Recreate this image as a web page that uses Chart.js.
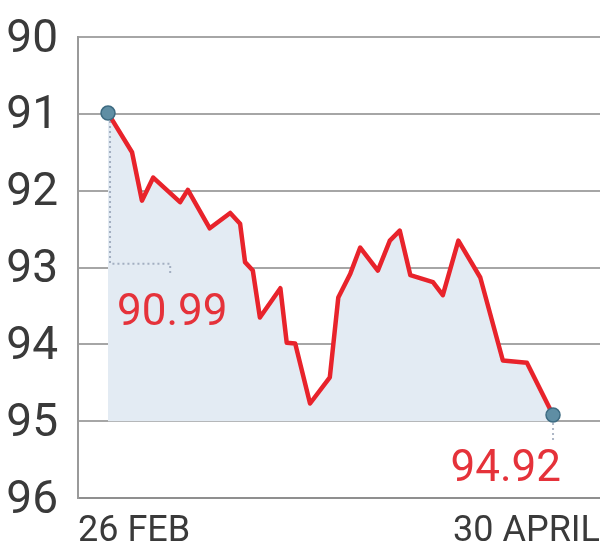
<!DOCTYPE html>
<html><head><meta charset="utf-8">
<script src="https://cdn.jsdelivr.net/npm/chart.js@4"></script>
<style>html,body{margin:0;padding:0;background:#fff}#wrap{width:600px;height:543px}</style>
</head>
<body><div id="wrap"><canvas id="c" width="600" height="543"></canvas></div>
<script>
// Days after 26 Feb (position along the period) and rate values (inverted axis)
const days = [0,3.4,4.8,6.4,10.2,11.3,14.4,17.3,18.7,19.4,20.5,21.5,24.4,25.3,26.5,28.6,31.4,32.6,34.3,35.7,38.2,39.9,41.3,42.8,46.0,47.4,49.6,52.7,55.9,59.3,63];
const values = [90.99,91.50,92.13,91.83,92.15,91.99,92.49,92.29,92.43,92.93,93.04,93.65,93.27,93.98,93.99,94.77,94.43,93.39,93.08,92.74,93.04,92.65,92.52,93.10,93.19,93.36,92.65,93.13,94.21,94.24,94.92];
const xLabels = ['26 FEB','30 APRIL'];
const yTicks = [90,91,92,93,94,95,96];
const startLabel = '90.99';
const endLabel = '94.92';

const pts = days.map((d,i)=>({x:d,y:values[i]}));
const last = values.length-1;

const annot = {
  id:'annot',
  afterDatasetsDraw(chart){
    const {ctx, scales:{x,y}} = chart;
    const x0 = x.getPixelForValue(days[0]), y0 = y.getPixelForValue(values[0]);
    const xe = x.getPixelForValue(days[last]), ye = y.getPixelForValue(values[last]);
    ctx.save();
    ctx.strokeStyle = 'rgba(120,135,160,0.6)';
    ctx.lineWidth = 2;
    ctx.setLineDash([2,3]);
    const yb = y.getPixelForValue(92.95);
    const xr = x.getPixelForValue(8.8);
    ctx.beginPath();
    ctx.moveTo(x0+2,y0+8); ctx.lineTo(x0+2,yb); ctx.lineTo(xr,yb); ctx.lineTo(xr,yb+12);
    ctx.moveTo(xe,ye+8); ctx.lineTo(xe,ye+26);
    ctx.stroke();
    ctx.setLineDash([]);
    ctx.fillStyle = '#e5323a';
    ctx.font = '44px Roboto';
    ctx.textBaseline = 'middle';
    ctx.textAlign = 'left';
    ctx.fillText(startLabel, x0+9, y.getPixelForValue(93.6));
    ctx.textAlign = 'right';
    ctx.fillText(endLabel, xe+8, y.getPixelForValue(95.63));
    ctx.restore();
  }
};

new Chart(document.getElementById('c'), {
  type:'line',
  data:{datasets:[{
    data: pts,
    borderColor:'#e8232b',
    borderWidth:4.5,
    borderJoinStyle:'round',
    tension:0,
    fill:{value:95},
    backgroundColor:'#e3ebf3',
    pointRadius: values.map((v,i)=> (i===0||i===last)?7:0),
    pointBackgroundColor:'#5f8ea4',
    pointBorderColor:'#3d6b82',
    pointBorderWidth:1.5
  }]},
  options:{
    responsive:false,
    animation:false,
    devicePixelRatio:1,
    layout:{autoPadding:false, padding:{top:37,right:0,left:0,bottom:0}},
    plugins:{legend:{display:false},tooltip:{enabled:false}},
    scales:{
      x:{
        type:'linear', min:-4.25, max:69.65,
        afterBuildTicks(s){ s.ticks = [{value:s.min},{value:s.max}]; },
        afterFit(s){ s.height = 45; s.paddingLeft = 0; s.paddingRight = 0; },
        ticks:{
          align:'inner', maxRotation:0, autoSkip:false,
          callback:(v,i)=>xLabels[i],
          font:{family:'Roboto', size:36}, color:'#3a3a3a', padding:4
        },
        grid:{display:false},
        border:{color:'#8f8f8f', width:2}
      },
      y:{
        min:90, max:96, reverse:true,
        afterBuildTicks(s){ s.ticks = yTicks.map(v=>({value:v})); },
        afterFit(s){ s.width = 78; s.paddingTop = 0; s.paddingBottom = 0; },
        ticks:{font:{family:'Roboto', size:46}, color:'#3a3a3a', padding:20, labelOffset:3},
        grid:{color:'#a6a6a6', lineWidth:2, drawTicks:false},
        border:{color:'#9a9a9a', width:2}
      }
    }
  },
  plugins:[annot]
});
</script>
</body></html>
